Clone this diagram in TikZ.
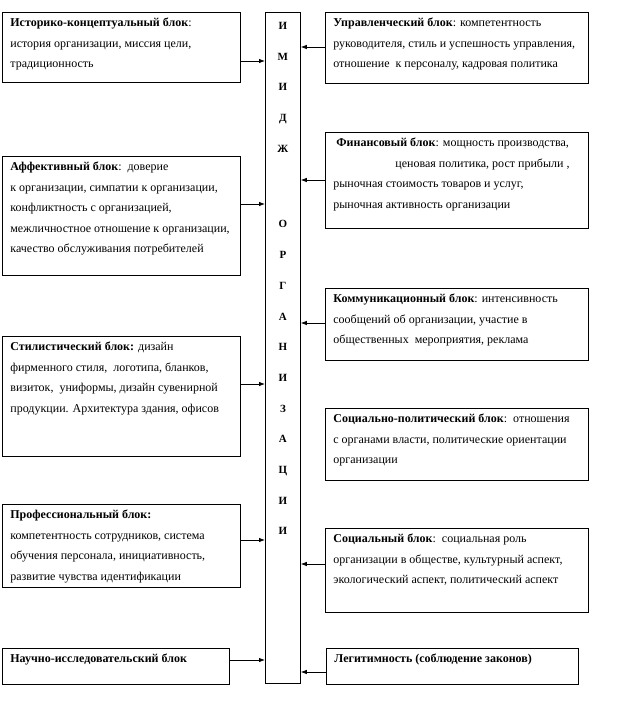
\documentclass[tikz,border=0pt]{standalone}
\usepackage{fontspec}
\setmainfont{Liberation Serif}
\usepackage{tikz}
\usetikzlibrary{positioning, arrows.meta}

% text block of a given size, set from the top
\newcommand{\blktext}[3]{\parbox[c][#2][t]{#1}{\raggedright\rule{0pt}{14.5pt}#3}}

\begin{document}
\begin{tikzpicture}[
  x=1pt, y=-1pt,
  blk/.style={
    draw, line width=0.8pt, anchor=north west,
    inner xsep=8pt, inner ysep=0pt,
    font=\fontsize{12}{20.5}\selectfont
  },
  arr/.style={-{Latex[length=6pt, width=4.5pt]}, line width=0.8pt},
]
\useasboundingbox (0,0) rectangle (626,709);

% central column
\node[draw, line width=0.8pt, anchor=north west, inner sep=0pt,
  font=\fontsize{11}{30.7}\selectfont\bfseries] (img) at (265,12)
  {\parbox[c][671pt][t]{35pt}{\centering\rule{0pt}{17pt}И\\М\\И\\Д\\Ж\\[45pt]О\\Р\\Г\\А\\Н\\И\\З\\А\\Ц\\И\\И}};

% left blocks
\node[blk] (hist) at (2,12) {\blktext{222pt}{70pt}{%
  \textbf{Историко-концептуальный блок}:\\
  история организации, миссия цели,\\
  традиционность}};
\node[blk] (aff) at (2,156) {\blktext{222pt}{119pt}{%
  \textbf{Аффективный блок}:\ \ доверие\\
  к организации, симпатии к организации,\\
  конфликтность с организацией,\\
  межличностное отношение к организации,\\
  качество обслуживания потребителей}};
\node[blk] (styl) at (2,336) {\blktext{222pt}{120pt}{%
  \textbf{Стилистический блок:} дизайн\\
  фирменного стиля,\ \ логотипа, бланков,\\
  визиток,\ \ униформы, дизайн сувенирной\\
  продукции. Архитектура здания, офисов}};
\node[blk] (prof) at (2,504) {\blktext{222pt}{83pt}{%
  \textbf{Профессиональный блок:}\\
  компетентность сотрудников, система\\
  обучения персонала, инициативность,\\
  развитие чувства идентификации}};
\node[blk] (sci) at (2,648) {\blktext{211pt}{36pt}{%
  \textbf{Научно-исследовательский блок}}};

% right blocks
\node[blk] (mgmt) at (325,12) {\blktext{247pt}{71pt}{%
  \textbf{Управленческий блок}: компетентность\\
  руководителя, стиль и успешность управления,\\
  отношение\ \ к персоналу, кадровая политика}};
\node[blk] (fin) at (325,132) {\blktext{247pt}{96pt}{%
  \hspace*{3pt}\textbf{Финансовый блок}: мощность производства,\\
  \hspace*{62pt}ценовая политика, рост прибыли ,\\
  рыночная стоимость товаров и услуг,\\
  рыночная активность организации}};
\node[blk] (comm) at (325,288) {\blktext{247pt}{72pt}{%
  \textbf{Коммуникационный блок}: интенсивность\\
  сообщений об организации, участие в\\
  общественных\ \ мероприятия, реклама}};
\node[blk] (spol) at (325,408) {\blktext{247pt}{72pt}{%
  \textbf{Социально-политический блок}:\ \ отношения\\
  с органами власти, политические ориентации\\
  организации}};
\node[blk] (soc) at (325,528) {\blktext{247pt}{84pt}{%
  \textbf{Социальный блок}:\ \ социальная роль\\
  организации в обществе, культурный аспект,\\
  экологический аспект, политический аспект}};
\node[blk] (legit) at (326,648) {\blktext{236pt}{36pt}{%
  \textbf{Легитимность (соблюдение законов)}}};

% connectors
\foreach \src/\y in {hist/61, aff/204, styl/384, prof/540, sci/660} {
  \draw[arr] (\src.east |- 0,\y) -- (img.west |- 0,\y);
}
\foreach \src/\y in {mgmt/47, fin/180, comm/323, soc/564, legit/672} {
  \draw[arr] (\src.west |- 0,\y) -- (img.east |- 0,\y);
}
\end{tikzpicture}
\end{document}
